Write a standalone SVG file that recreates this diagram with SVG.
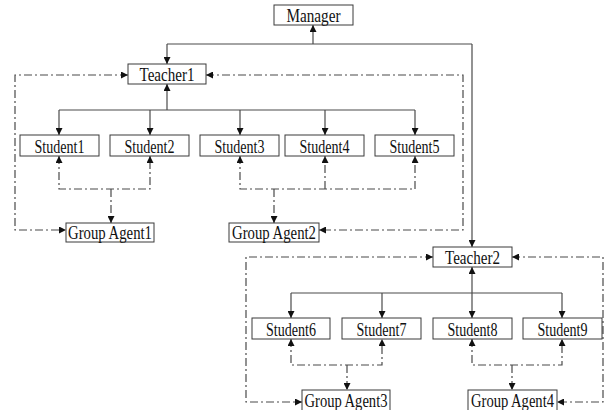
<svg xmlns="http://www.w3.org/2000/svg" width="605" height="410" viewBox="0 0 605 410">
  <style>
    .box { fill: #ffffff; stroke: #3a3a3a; stroke-width: 1; }
    .lbl { font-family: "Liberation Serif", "Times New Roman", serif; font-size: 19px; fill: #111111; text-anchor: middle; }
    .solid { fill: none; stroke: #4a4a4a; stroke-width: 1.2; }
    .dd { fill: none; stroke: #4a4a4a; stroke-width: 1.2; stroke-dasharray: 8 3 2 3; }
  </style>
  <defs>
    <marker id="arr" viewBox="0 0 8 8" refX="8" refY="4" markerWidth="7" markerHeight="7" markerUnits="userSpaceOnUse" orient="auto-start-reverse">
      <path d="M0,0 L8,4 L0,8 Z" fill="#111111"/>
    </marker>
  </defs>
  <rect width="605" height="410" fill="#ffffff"/>

  <!-- connectors -->
  <g id="connectors">
    <!-- reporting lines (solid) -->
    <path class="solid" d="M313,44 V25" marker-end="url(#arr)"/>
    <path class="solid" d="M167,44 H472"/>
    <path class="solid" d="M167,44 V64" marker-end="url(#arr)"/>
    <path class="solid" d="M472,44 V247" marker-end="url(#arr)"/>

    <path class="solid" d="M167,110 V84" marker-end="url(#arr)"/>
    <path class="solid" d="M59,110 H415"/>
    <path class="solid" d="M59,110 V135" marker-end="url(#arr)"/>
    <path class="solid" d="M150,110 V135" marker-end="url(#arr)"/>
    <path class="solid" d="M240,110 V135" marker-end="url(#arr)"/>
    <path class="solid" d="M325,110 V135" marker-end="url(#arr)"/>
    <path class="solid" d="M415,110 V135" marker-end="url(#arr)"/>

    <path class="solid" d="M472,293 V267" marker-end="url(#arr)"/>
    <path class="solid" d="M291,293 H562"/>
    <path class="solid" d="M291,293 V318" marker-end="url(#arr)"/>
    <path class="solid" d="M382,293 V318" marker-end="url(#arr)"/>
    <path class="solid" d="M472,293 V318" marker-end="url(#arr)"/>
    <path class="solid" d="M562,293 V318" marker-end="url(#arr)"/>

    <!-- group agent links (dash-dot) -->
    <path class="dd" d="M59,156 V189 H150 V156" marker-start="url(#arr)" marker-end="url(#arr)"/>
    <path class="dd" d="M111,189 V223" marker-end="url(#arr)"/>
    <path class="dd" d="M240,156 V189 H415 V156" marker-start="url(#arr)" marker-end="url(#arr)"/>
    <path class="dd" d="M325,189 V156" marker-end="url(#arr)"/>
    <path class="dd" d="M274,189 V223" marker-end="url(#arr)"/>
    <path class="dd" d="M128,75 H15 V230 H66" marker-start="url(#arr)" marker-end="url(#arr)"/>
    <path class="dd" d="M206,75 H463 V230 H319" marker-start="url(#arr)" marker-end="url(#arr)"/>

    <path class="dd" d="M291,339 V365 H382 V339" marker-start="url(#arr)" marker-end="url(#arr)"/>
    <path class="dd" d="M347,365 V390" marker-end="url(#arr)"/>
    <path class="dd" d="M472,339 V365 H562 V339" marker-start="url(#arr)" marker-end="url(#arr)"/>
    <path class="dd" d="M512,365 V390" marker-end="url(#arr)"/>
    <path class="dd" d="M433,257 H246 V402 H302" marker-start="url(#arr)" marker-end="url(#arr)"/>
    <path class="dd" d="M512,257 H603 V402 H557" marker-start="url(#arr)" marker-end="url(#arr)"/>
  </g>

  <!-- nodes -->
  <g id="manager"><rect class="box" x="274" y="5" width="79" height="20"/><text class="lbl" x="313.5" y="21.5" textLength="54" lengthAdjust="spacingAndGlyphs">Manager</text></g>

  <g id="teacher1"><rect class="box" x="128" y="64" width="78" height="20"/><text class="lbl" x="167" y="80.5" textLength="55" lengthAdjust="spacingAndGlyphs">Teacher1</text></g>
  <g id="student1"><rect class="box" x="20" y="135" width="79" height="21"/><text class="lbl" x="59.5" y="152.5" textLength="50" lengthAdjust="spacingAndGlyphs">Student1</text></g>
  <g id="student2"><rect class="box" x="110" y="135" width="79" height="21"/><text class="lbl" x="149.5" y="152.5" textLength="50" lengthAdjust="spacingAndGlyphs">Student2</text></g>
  <g id="student3"><rect class="box" x="200" y="135" width="79" height="21"/><text class="lbl" x="239.5" y="152.5" textLength="50" lengthAdjust="spacingAndGlyphs">Student3</text></g>
  <g id="student4"><rect class="box" x="285" y="135" width="79" height="21"/><text class="lbl" x="324.5" y="152.5" textLength="50" lengthAdjust="spacingAndGlyphs">Student4</text></g>
  <g id="student5"><rect class="box" x="375" y="135" width="79" height="21"/><text class="lbl" x="414.5" y="152.5" textLength="50" lengthAdjust="spacingAndGlyphs">Student5</text></g>
  <g id="group-agent1"><rect class="box" x="66" y="223" width="88" height="19"/><text class="lbl" x="110" y="238.5" textLength="84" lengthAdjust="spacingAndGlyphs">Group Agent1</text></g>
  <g id="group-agent2"><rect class="box" x="229" y="223" width="90" height="19"/><text class="lbl" x="274" y="238.5" textLength="84" lengthAdjust="spacingAndGlyphs">Group Agent2</text></g>

  <g id="teacher2"><rect class="box" x="433" y="247" width="79" height="20"/><text class="lbl" x="472.5" y="263.5" textLength="55" lengthAdjust="spacingAndGlyphs">Teacher2</text></g>
  <g id="student6"><rect class="box" x="252" y="318" width="78" height="21"/><text class="lbl" x="291" y="335.5" textLength="50" lengthAdjust="spacingAndGlyphs">Student6</text></g>
  <g id="student7"><rect class="box" x="342" y="318" width="79" height="21"/><text class="lbl" x="381.5" y="335.5" textLength="50" lengthAdjust="spacingAndGlyphs">Student7</text></g>
  <g id="student8"><rect class="box" x="433" y="318" width="79" height="21"/><text class="lbl" x="472.5" y="335.5" textLength="50" lengthAdjust="spacingAndGlyphs">Student8</text></g>
  <g id="student9"><rect class="box" x="523" y="318" width="79" height="21"/><text class="lbl" x="562.5" y="335.5" textLength="50" lengthAdjust="spacingAndGlyphs">Student9</text></g>
  <g id="group-agent3"><rect class="box" x="302" y="390" width="88" height="24"/><text class="lbl" x="346" y="406.5" textLength="83" lengthAdjust="spacingAndGlyphs">Group Agent3</text></g>
  <g id="group-agent4"><rect class="box" x="468" y="390" width="89" height="24"/><text class="lbl" x="512.5" y="406.5" textLength="83" lengthAdjust="spacingAndGlyphs">Group Agent4</text></g>
</svg>
